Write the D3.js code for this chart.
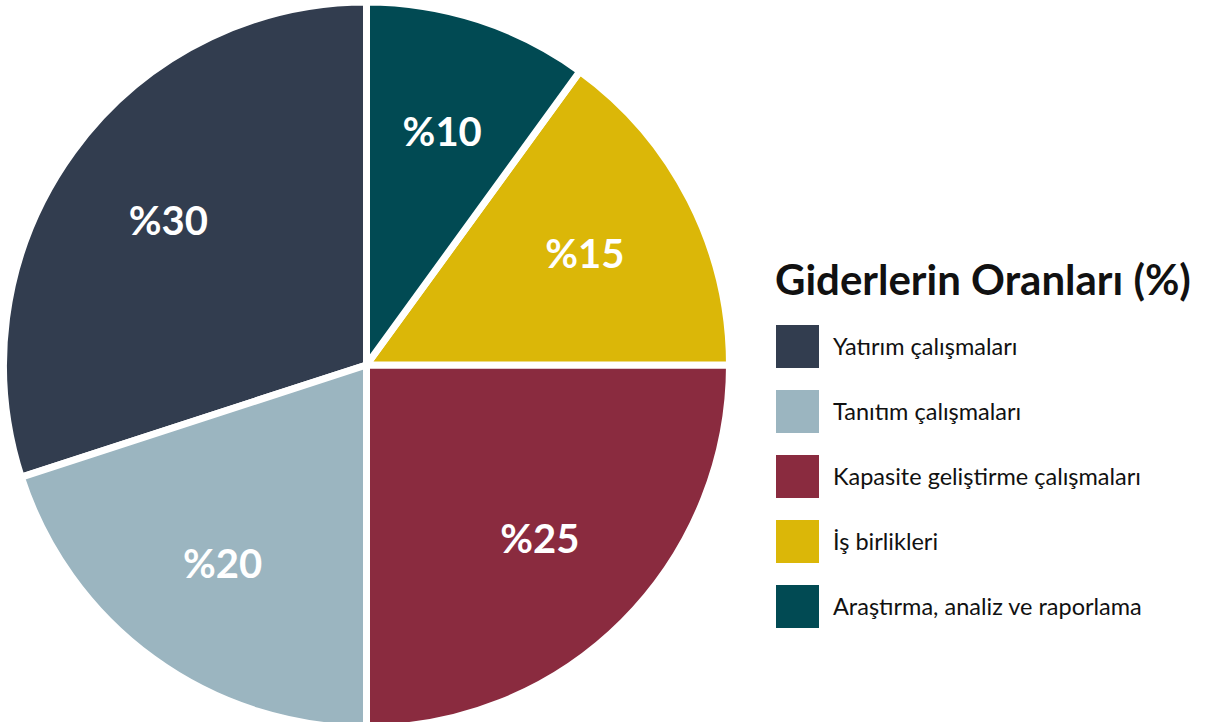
<!DOCTYPE html>
<html>
<head>
<meta charset="utf-8">
<script src="https://cdn.jsdelivr.net/npm/d3@7"></script>
<style>
  body { margin: 0; background: #fff; }
  text { font-family: Lato, 'Open Sans', sans-serif; }
</style>
</head>
<body>
<div id="container"></div>
<script>
let categories = ['Yatırım çalışmaları', 'Tanıtım çalışmaları', 'Kapasite geliştirme çalışmaları', 'İş birlikleri', 'Araştırma, analiz ve raporlama']
let values = [30, 20, 25, 15, 10]
let colors = ['#323d4f', '#9bb5c0', '#8a2b3f', '#dbb708', '#014a53']
let title = 'Giderlerin Oranları (%)'

let width = 1209,
  height = 722,
  cx = 366.5,
  cy = 365,
  radius = 363

let svg = d3.select('#container')
  .append('svg')
  .attr('width', width)
  .attr('height', height)

// counter-clockwise from 12 o'clock so the legend order matches
let pie = d3.pie().sort(null).startAngle(0).endAngle(-2 * Math.PI)
let arcs = pie(values)
let arc = d3.arc().innerRadius(0).outerRadius(radius)
let labelArc = d3.arc().innerRadius(245).outerRadius(245)

let g = svg.append('g')
  .attr('transform', 'translate(' + cx + ', ' + cy + ')')

g.selectAll('path')
  .data(arcs)
  .enter()
  .append('path')
  .attr('d', arc)
  .attr('fill', (d, i) => colors[i])
  .attr('stroke', '#fff')
  .attr('stroke-width', 7)
  .attr('stroke-linejoin', 'miter')

g.selectAll('text.label')
  .data(arcs)
  .enter()
  .append('text')
  .attr('class', 'label')
  .attr('transform', d => 'translate(' + labelArc.centroid(d) + ')')
  .attr('text-anchor', 'middle')
  .attr('dy', '0.36em')
  .attr('fill', '#fff')
  .attr('font-weight', 'bold')
  .attr('font-size', 40)
  .text(d => '%' + d.data)

let legend = svg.append('g')
  .attr('transform', 'translate(775, 0)')

legend.append('text')
  .text(title)
  .attr('x', 0)
  .attr('y', 295)
  .attr('font-weight', 'bold')
  .attr('font-size', 42)
  .attr('fill', '#111')

let item = legend.selectAll('g.item')
  .data(categories)
  .enter()
  .append('g')
  .attr('class', 'item')
  .attr('transform', (d, i) => 'translate(0, ' + (325 + i * 65) + ')')

item.append('rect')
  .attr('x', 1)
  .attr('width', 43)
  .attr('height', 43)
  .attr('fill', (d, i) => colors[i])

item.append('text')
  .attr('x', 58)
  .attr('y', 30)
  .attr('font-size', 23.5)
  .attr('fill', '#111')
  .text(d => d)
</script>
</body>
</html>
